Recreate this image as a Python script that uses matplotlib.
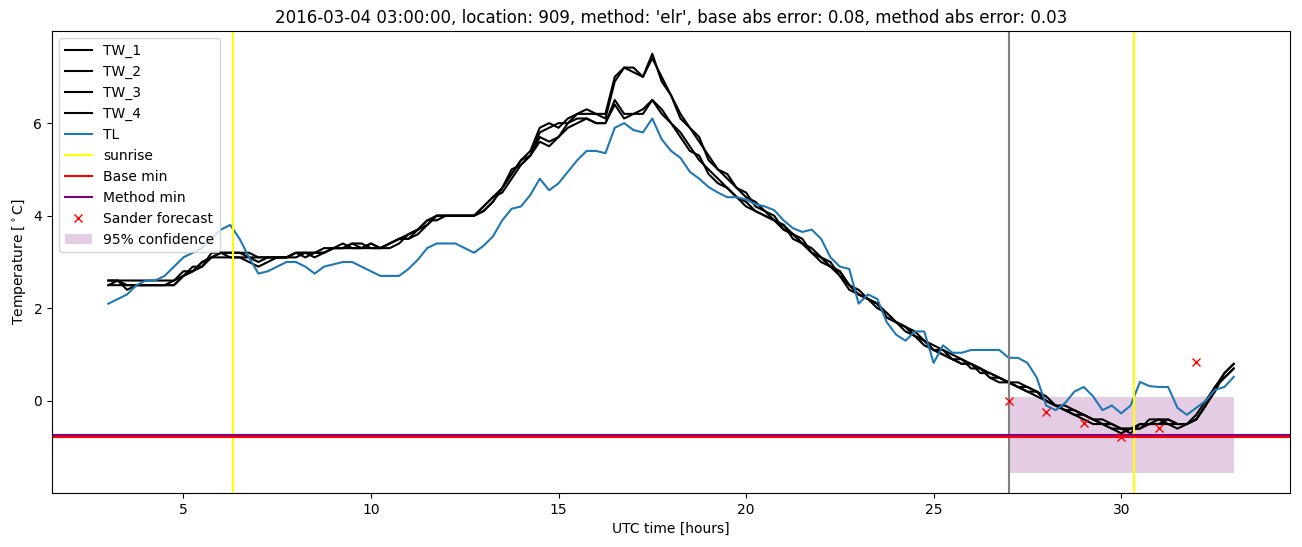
import numpy as np
import matplotlib
matplotlib.use("Agg")
import matplotlib.pyplot as plt

title = "2016-03-04 03:00:00, location: 909, method: 'elr', base abs error: 0.08, method abs error: 0.03"

hours = np.linspace(3, 33, 121)

tw_1 = [2.6, 2.6, 2.6, 2.6, 2.6, 2.6, 2.6, 2.6,
        2.7, 2.8, 3.0, 3.1, 3.2, 3.2, 3.2, 3.1,
        3.1, 3.1, 3.1, 3.1, 3.2, 3.2, 3.2, 3.2,
        3.3, 3.3, 3.4, 3.3, 3.4, 3.3, 3.4, 3.5,
        3.6, 3.7, 3.9, 4.0, 4.0, 4.0, 4.0, 4.0,
        4.2, 4.4, 4.6, 4.9, 5.2, 5.4, 5.9, 6.0,
        5.9, 6.1, 6.2, 6.3, 6.2, 6.2, 7.0, 7.2,
        7.2, 7.0, 7.5, 6.9, 6.6, 6.2, 5.9, 5.6,
        5.3, 5.0, 4.8, 4.6, 4.4, 4.3, 4.1, 3.9,
        3.8, 3.6, 3.4, 3.3, 3.1, 2.9, 2.8, 2.5,
        2.3, 2.2, 2.1, 1.9, 1.7, 1.6, 1.4, 1.3,
        1.1, 1.0, 0.9, 0.8, 0.8, 0.7, 0.6, 0.5,
        0.4, 0.3, 0.2, 0.2, 0.0, -0.1, -0.2, -0.2,
        -0.3, -0.4, -0.5, -0.5, -0.6, -0.6, -0.6, -0.5,
        -0.4, -0.4, -0.5, -0.5, -0.4, -0.1, 0.3, 0.6,
        0.8]

tw_2 = [2.5, 2.5, 2.5, 2.5, 2.5, 2.5, 2.5, 2.5,
        2.7, 2.9, 2.9, 3.2, 3.2, 3.1, 3.1, 3.1,
        3.0, 3.1, 3.1, 3.1, 3.1, 3.2, 3.2, 3.3,
        3.3, 3.3, 3.3, 3.3, 3.3, 3.3, 3.4, 3.5,
        3.5, 3.7, 3.8, 4.0, 4.0, 4.0, 4.0, 4.0,
        4.1, 4.3, 4.6, 5.0, 5.1, 5.3, 5.8, 5.9,
        6.0, 6.0, 6.2, 6.2, 6.2, 6.1, 6.9, 7.2,
        7.1, 7.0, 7.4, 7.0, 6.6, 6.1, 5.9, 5.7,
        5.2, 5.0, 4.9, 4.6, 4.5, 4.2, 4.1, 4.0,
        3.7, 3.6, 3.5, 3.2, 3.1, 3.0, 2.7, 2.5,
        2.4, 2.2, 2.1, 1.8, 1.7, 1.6, 1.5, 1.3,
        1.2, 1.1, 1.0, 0.9, 0.7, 0.7, 0.5, 0.5,
        0.4, 0.4, 0.3, 0.2, 0.1, -0.1, -0.1, -0.2,
        -0.3, -0.4, -0.4, -0.5, -0.6, -0.7, -0.5, -0.5,
        -0.5, -0.4, -0.5, -0.5, -0.3, 0.0, 0.3, 0.5,
        0.7]

tw_3 = [2.6, 2.6, 2.5, 2.5, 2.5, 2.5, 2.5, 2.6,
        2.8, 2.8, 3.0, 3.1, 3.2, 3.2, 3.2, 3.2,
        3.1, 3.1, 3.1, 3.1, 3.2, 3.1, 3.2, 3.2,
        3.3, 3.3, 3.4, 3.4, 3.3, 3.3, 3.3, 3.4,
        3.6, 3.7, 3.9, 3.9, 4.0, 4.0, 4.0, 4.0,
        4.2, 4.4, 4.5, 4.8, 5.1, 5.3, 5.7, 5.6,
        5.7, 5.9, 6.0, 6.1, 6.0, 6.0, 6.5, 6.2,
        6.2, 6.3, 6.5, 6.3, 6.0, 5.8, 5.5, 5.2,
        5.0, 4.8, 4.6, 4.4, 4.3, 4.1, 4.0, 3.9,
        3.7, 3.6, 3.4, 3.2, 3.0, 2.9, 2.8, 2.5,
        2.3, 2.2, 2.1, 1.8, 1.7, 1.6, 1.4, 1.3,
        1.1, 1.0, 0.9, 0.9, 0.8, 0.6, 0.6, 0.5,
        0.4, 0.3, 0.3, 0.2, 0.0, -0.1, -0.2, -0.3,
        -0.3, -0.4, -0.5, -0.6, -0.6, -0.6, -0.6, -0.4,
        -0.4, -0.5, -0.5, -0.5, -0.4, -0.1, 0.2, 0.6,
        0.8]

tw_4 = [2.5, 2.6, 2.4, 2.5, 2.5, 2.5, 2.5, 2.5,
        2.7, 2.8, 2.9, 3.1, 3.1, 3.1, 3.1, 3.0,
        2.9, 3.0, 3.1, 3.1, 3.2, 3.2, 3.1, 3.2,
        3.3, 3.4, 3.3, 3.3, 3.4, 3.3, 3.4, 3.5,
        3.5, 3.6, 3.8, 4.0, 4.0, 4.0, 4.0, 4.0,
        4.1, 4.3, 4.6, 4.9, 5.2, 5.3, 5.6, 5.5,
        5.7, 6.0, 6.1, 6.1, 6.0, 6.0, 6.4, 6.1,
        6.2, 6.2, 6.5, 6.2, 6.0, 5.7, 5.4, 5.3,
        4.9, 4.7, 4.6, 4.4, 4.2, 4.1, 4.0, 3.9,
        3.8, 3.5, 3.4, 3.2, 3.1, 2.9, 2.7, 2.4,
        2.3, 2.2, 2.0, 1.9, 1.7, 1.5, 1.4, 1.2,
        1.1, 1.1, 0.9, 0.8, 0.8, 0.7, 0.5, 0.4,
        0.4, 0.3, 0.2, 0.1, 0.0, -0.1, -0.2, -0.3,
        -0.4, -0.5, -0.5, -0.6, -0.7, -0.6, -0.5, -0.5,
        -0.5, -0.5, -0.6, -0.5, -0.4, -0.1, 0.3, 0.5,
        0.7]

tl = [2.1, 2.2, 2.3, 2.5, 2.6, 2.6, 2.7, 2.9,
      3.1, 3.2, 3.3, 3.5, 3.7, 3.8, 3.5, 3.1,
      2.75, 2.8, 2.9, 3.0, 3.0, 2.9, 2.75, 2.9,
      2.95, 3.0, 3.0, 2.9, 2.8, 2.7, 2.7, 2.7,
      2.85, 3.05, 3.3, 3.4, 3.4, 3.4, 3.3, 3.2,
      3.35, 3.55, 3.9, 4.15, 4.2, 4.45, 4.8, 4.55,
      4.7, 4.95, 5.2, 5.4, 5.4, 5.35, 5.9, 6.0,
      5.85, 5.8, 6.1, 5.65, 5.4, 5.25, 4.95, 4.8,
      4.62, 4.5, 4.4, 4.4, 4.35, 4.25, 4.2, 4.12,
      3.9, 3.73, 3.65, 3.7, 3.5, 3.1, 2.9, 2.85,
      2.1, 2.3, 2.2, 1.7, 1.43, 1.3, 1.5, 1.5,
      0.82, 1.2, 1.04, 1.04, 1.1, 1.1, 1.1, 1.1,
      0.93, 0.93, 0.82, 0.5, -0.1, -0.2, -0.05, 0.2,
      0.3, 0.1, -0.2, -0.1, -0.27, -0.1, 0.41, 0.32,
      0.3, 0.3, -0.15, -0.3, -0.15, 0.0, 0.24, 0.3,
      0.52]

sunrise_hours = [6.32, 30.34]
forecast_start = 27.0
base_min = -0.775
method_min = -0.74
sander_hours = [27, 28, 29, 30, 31, 32]
sander_values = [0.0, -0.24, -0.47, -0.78, -0.58, 0.84]
conf_hours = [27, 33]
conf_low = -1.55
conf_high = 0.09

fig = plt.figure(figsize=(13.02, 5.47), dpi=100)
ax = fig.add_axes([0.040, 0.0987, 0.9508, 0.8446])

for name, s in zip(["TW_1", "TW_2", "TW_3", "TW_4"], [tw_1, tw_2, tw_3, tw_4]):
    ax.plot(hours, s, color="black", label=name)
ax.plot(hours, tl, color="C0", label="TL")
for i, h in enumerate(sunrise_hours):
    ax.axvline(h, color="yellow", label="sunrise" if i == 0 else None)
ax.axvline(forecast_start, color="gray")
ax.axhline(base_min, color="red", label="Base min")
ax.axhline(method_min, color="purple", label="Method min")
ax.plot(sander_hours, sander_values, "x", color="red", label="Sander forecast")
ax.fill_between(conf_hours, [conf_low] * 2, [conf_high] * 2, color="purple",
                alpha=0.2, lw=0, label="95% confidence")

ax.set_xlim(1.5, 34.5)
ax.set_ylim(-1.99, 7.99)
ax.set_title(title, fontsize=12)
ax.set_xlabel("UTC time [hours]")
ax.set_ylabel("Temperature [$^\\circ$C]")
ax.legend(loc="upper left")

fig.savefig("out.png", dpi=100)
